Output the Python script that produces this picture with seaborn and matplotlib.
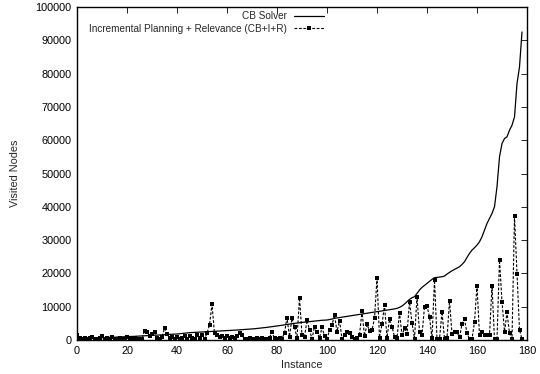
import matplotlib
matplotlib.use('Agg')
import matplotlib.pyplot as plt
import seaborn as sns
import numpy as np

# CB Solver visited nodes (instances sorted by this value)
cb_solver = [
    400, 420, 450, 480, 500, 530, 560, 590, 620, 650,
    680, 700, 720, 750, 780, 800, 830, 860, 900, 950,
    1000, 1030, 1060, 1100, 1140, 1180, 1220, 1260, 1300, 1340,
    1380, 1420, 1460, 1500, 1540, 1580, 1620, 1660, 1700, 1750,
    1800, 1880, 1960, 2040, 2120, 2200, 2240, 2280, 2320, 2360,
    2400, 2440, 2480, 2520, 2560, 2600, 2640, 2680, 2720, 2760,
    2800, 2850, 2900, 2950, 3000, 3050, 3100, 3150, 3200, 3250,
    3300, 3380, 3460, 3540, 3620, 3700, 3800, 3900, 4000, 4100,
    4200, 4320, 4440, 4560, 4680, 4800, 4900, 5000, 5100, 5200,
    5280, 5360, 5440, 5520, 5600, 5680, 5760, 5840, 5920, 5960,
    6000, 6150, 6300, 6500, 6620, 6740, 6860, 6980, 7100, 7220,
    7340, 7460, 7580, 7700, 7800, 7920, 8040, 8160, 8280, 8400,
    8500, 8620, 8740, 8860, 8980, 9100, 9220, 9340, 9500, 9800,
    10200, 10800, 11500, 12200, 12700, 13000, 14000, 15000, 15800, 16400,
    17000, 17600, 18200, 18700, 18800, 18900, 19000, 19200, 19800, 20300,
    20800, 21200, 21600, 22000, 22700, 23500, 24800, 26000, 27000, 27700,
    28500, 29500, 31000, 33000, 35000, 36500, 38000, 40000, 46000, 55000,
    59000, 60500, 61000, 63000, 64500, 67000, 77000, 82000, 92500,
]

# Incremental Planning + Relevance (CB+I+R)
cb_ir = [
    1500, 600, 300, 700, 400, 500, 1000, 300, 400, 600,
    1100, 300, 500, 200, 1000, 400, 300, 600, 200, 400,
    1000, 700, 300, 500, 200, 400, 300, 2800, 2500, 1200,
    1800, 2500, 600, 300, 800, 3600, 1800, 500, 900, 400,
    1000, 300, 700, 1200, 400, 1300, 500, 300, 1400, 600,
    1500, 400, 2000, 4600, 10700, 2000, 1400, 800, 1200, 600,
    1300, 700, 1000, 500, 1200, 2200, 1500, 300, 400, 500,
    300, 400, 500, 300, 600, 400, 300, 700, 2400, 500,
    300, 600, 400, 2200, 6700, 1000, 6500, 4000, 500, 12700,
    1500, 800, 6000, 3000, 400, 4000, 2500, 600, 3800, 1200,
    300, 3000, 4500, 7500, 2500, 5800, 400, 1500, 2500, 2000,
    800, 400, 600, 1500, 8600, 1200, 4700, 2800, 3000, 6500,
    18600, 700, 4700, 10500, 700, 6200, 4000, 1000, 500, 8200,
    1500, 3500, 1800, 11500, 5200, 400, 13000, 2500, 1500, 10000,
    10100, 7000, 500, 18000, 300, 300, 8500, 300, 500, 11800,
    1800, 2300, 2300, 800, 4800, 6200, 2000, 300, 300, 5500,
    16300, 1500, 2500, 1500, 1500, 1500, 16200, 300, 300, 24000,
    11500, 2500, 8300, 2000, 300, 37200, 19800, 3000, 300,
]

instances = list(range(len(cb_solver)))

x_ticks = [0, 20, 40, 60, 80, 100, 120, 140, 160, 180]
y_ticks = [0, 10000, 20000, 30000, 40000, 50000, 60000, 70000, 80000, 90000, 100000]

sns.set_style('white')
plt.rcParams['font.family'] = ['Liberation Sans', 'DejaVu Sans']

fig = plt.figure(figsize=(5.4, 3.74), dpi=100)
ax = fig.add_axes([77 / 540, 1 - 340 / 374, 450 / 540, 333 / 374])

sns.lineplot(x=instances, y=cb_solver, ax=ax, color='black', lw=0.9,
             label='CB Solver')
sns.lineplot(x=instances, y=cb_ir, ax=ax, color='black', lw=0.8,
             linestyle=(0, (2.5, 1.5)), marker='s', markersize=2.8,
             markeredgewidth=0, label='Incremental Planning + Relevance (CB+I+R)')

ax.set_xlim(0, 180)
ax.set_ylim(0, 100000)
ax.set_xticks(x_ticks)
ax.set_yticks(y_ticks)
ax.tick_params(direction='in', top=True, right=True, length=4, width=0.6,
               labelsize=7.8, pad=4, colors='black')
for s in ax.spines.values():
    s.set_color('black')
    s.set_linewidth(1.0)

ax.set_xlabel('Instance', fontsize=7.8, labelpad=3)
ax.set_ylabel('Visited Nodes', fontsize=7.8, labelpad=11)

leg = ax.legend(loc='upper right', bbox_to_anchor=(324 / 540, 1 - 11 / 374),
                bbox_transform=fig.transFigure, frameon=False, markerfirst=False,
                fontsize=7.2, handlelength=3.0, labelspacing=0.25,
                handletextpad=0.7, borderpad=0, borderaxespad=0)

fig.savefig('out.png', dpi=100)
plt.close(fig)
